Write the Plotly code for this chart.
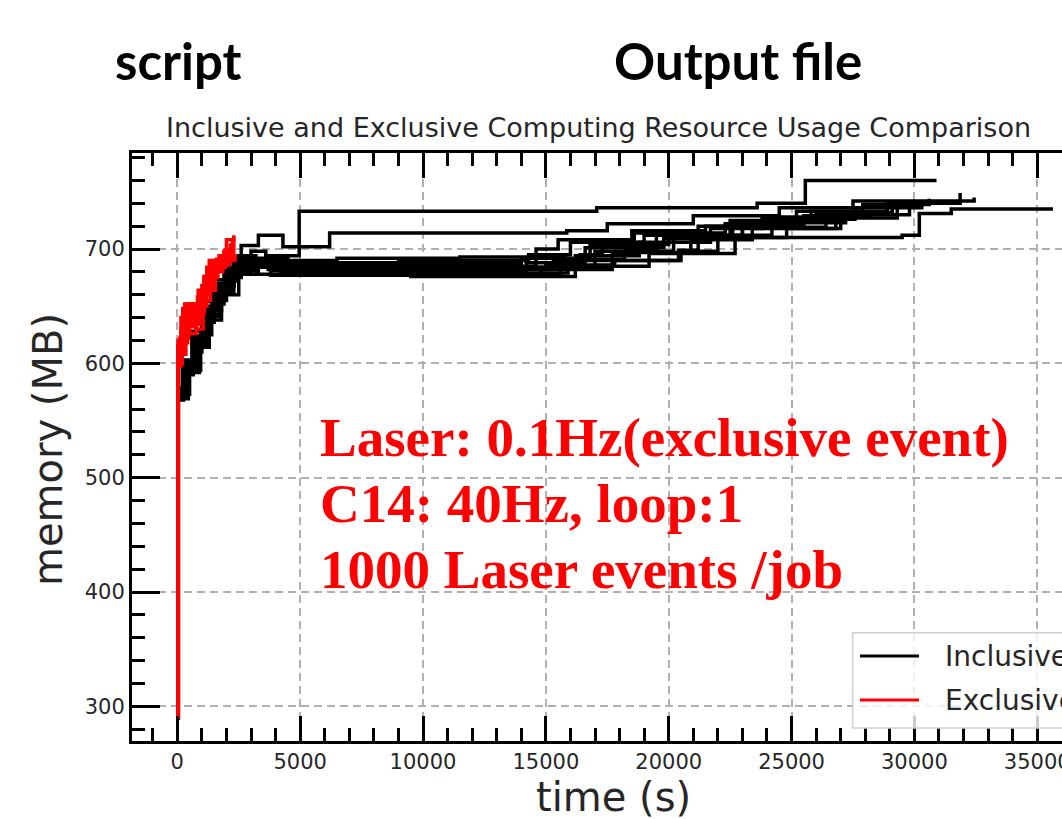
import plotly.graph_objects as go

# ---------------- data ----------------
inclusive_times = [
    [0, 30, 250, 600, 1000, 1400, 1900, 2400, 3000, 3600, 4960, 17070, 23600, 25560, 30900],
    [0, 30, 300, 700, 1100, 1500, 2000, 2600, 3300, 4300, 6200, 15850, 17500, 21000, 24500, 27500, 32430],
    [0, 40, 350, 800, 1200, 1700, 2300, 3000, 4500, 9000, 14300, 16000, 19000, 22500, 25800, 28900, 31860],
    [0, 35, 400, 900, 1300, 1800, 2500, 3200, 6000, 12000, 15000, 17800, 20500, 22000, 29500, 30200, 31500, 35640],
    [0, 30, 300, 700, 1200, 1600, 2100, 2800, 4000, 8000, 14600, 15500, 18500, 21500, 24500, 27650],
    [0, 45, 250, 650, 1000, 1500, 2000, 2600, 3300, 7000, 13500, 16400, 17300, 20000, 23000, 26000, 29100],
    [0, 35, 500, 950, 1400, 1900, 2400, 3200, 5000, 10000, 15300, 18200, 19500, 21200, 24000, 27600, 30300],
    [0, 40, 300, 750, 1250, 1700, 2200, 3000, 3800, 9500, 16200, 18800, 21700, 23800, 26000, 28600],
    [0, 30, 200, 600, 1000, 1450, 1950, 2500, 3200, 6500, 11500, 15800, 20400, 21200, 24800, 27000, 29800],
    [0, 35, 450, 850, 1300, 1800, 2300, 2900, 3700, 8500, 14800, 17700, 20900, 23400, 26800],
    [0, 35, 300, 700, 1100, 1600, 2100, 2700, 3500, 9000, 14200, 16600, 19800, 22600, 25500, 28200],
    [0, 40, 350, 800, 1250, 1750, 2300, 3100, 4200, 10500, 15600, 17000, 20200, 23000, 26400, 29300],
    [0, 30, 250, 650, 1050, 1550, 2050, 2700, 3400, 7500, 14000, 16800, 18600, 22300, 25200, 27900, 30600],
    [0, 35, 400, 850, 1300, 1750, 2250, 2900, 3800, 11000, 15900, 19200, 22700, 24200, 27200],
]
inclusive_mem = [
    [290, 578, 602, 624, 645, 662, 681, 693, 698, 694, 733, 736, 740, 760, 760],
    [290, 572, 596, 618, 640, 660, 684, 703, 712, 702, 714, 716, 722, 729, 736, 742, 745],
    [290, 575, 598, 620, 648, 668, 686, 692, 688, 690, 695, 706, 712, 725, 733, 740, 749],
    [290, 570, 592, 614, 638, 660, 678, 684, 680, 682, 686, 690, 698, 710, 712, 731, 735, 735],
    [290, 576, 600, 622, 650, 670, 688, 690, 686, 685, 700, 708, 716, 720, 726, 726],
    [290, 568, 590, 610, 636, 655, 675, 682, 678, 680, 684, 695, 704, 712, 724, 732, 738],
    [290, 573, 594, 625, 652, 672, 684, 686, 683, 684, 691, 700, 712, 720, 728, 736, 742],
    [290, 571, 597, 616, 643, 664, 680, 688, 677, 676, 694, 706, 718, 727, 731, 734],
    [290, 574, 603, 628, 654, 673, 689, 694, 690, 692, 693, 690, 699, 710, 718, 730, 738],
    [290, 569, 595, 619, 646, 667, 679, 687, 682, 678, 682, 697, 708, 718, 722],
    [290, 577, 600, 623, 649, 669, 684, 689, 684, 681, 688, 701, 709, 721, 729, 733],
    [290, 572, 596, 617, 642, 663, 681, 684, 679, 677, 683, 698, 711, 719, 727, 737],
    [290, 574, 599, 621, 647, 667, 683, 691, 688, 687, 692, 704, 714, 722, 733, 739, 744],
    [290, 570, 593, 615, 641, 661, 679, 685, 681, 679, 685, 696, 712, 723, 728],
]
exclusive_times = [
    [0, 20, 150, 400, 700, 1000, 1300, 1700, 2000, 2300],
    [0, 30, 200, 500, 800, 1100, 1400, 1800, 2200],
    [0, 25, 300, 600, 900, 1200, 1500, 1900, 2150],
    [0, 20, 100, 450, 750, 1050, 1350, 1650, 2050, 2250],
    [0, 30, 250, 550, 850, 1150, 1450, 1750, 2100],
    [0, 25, 180, 420, 650, 950, 1250, 1600, 1950, 2200],
    [0, 35, 350, 700, 1000, 1300, 1600, 2000, 2350],
    [0, 20, 220, 520, 820, 1150, 1500, 1850, 2250],
    [0, 30, 150, 480, 780, 1080, 1380, 1720, 2150],
    [0, 25, 260, 580, 900, 1200, 1550, 1900, 2300],
]
exclusive_mem = [
    [291, 612, 640, 652, 648, 668, 690, 694, 708, 710],
    [291, 600, 628, 635, 645, 672, 688, 692, 700],
    [291, 615, 652, 642, 660, 684, 690, 697, 705],
    [291, 605, 622, 638, 630, 655, 675, 686, 694, 702],
    [291, 620, 645, 638, 664, 667, 682, 686, 692],
    [291, 598, 618, 646, 640, 660, 680, 684, 699, 704],
    [291, 608, 632, 650, 662, 678, 691, 690, 696],
    [291, 616, 648, 652, 658, 670, 680, 693, 709],
    [291, 602, 630, 626, 644, 676, 684, 688, 690],
    [291, 610, 642, 634, 650, 664, 687, 698, 712],
]
x_tick_vals = [0, 5000, 10000, 15000, 20000, 25000, 30000, 35000]
y_tick_vals = [300, 400, 500, 600, 700]
legend_labels = ["Inclusive", "Exclusive"]
title_text = "Inclusive and Exclusive Computing Resource Usage Comparison"
note_lines = ["Laser: 0.1Hz(exclusive event)", "C14: 40Hz, loop:1", "1000 Laser events /job"]

# ---------------- layout geometry ----------------
W, H = 1062, 819
L, R, T, B = 132, 0, 153, 78
plotW = W - L - R
plotH = H - T - B


def px(xp):
    return (xp - L) / plotW


def py(yp):
    return (H - B - yp) / plotH


fig = go.Figure()
for t, m in zip(inclusive_times, inclusive_mem):
    fig.add_trace(go.Scatter(x=t, y=m, mode="lines", line=dict(color="black", width=3.5, shape="hv"),
                             showlegend=False, hoverinfo="skip"))
for t, m in zip(exclusive_times, exclusive_mem):
    fig.add_trace(go.Scatter(x=t, y=m, mode="lines", line=dict(color="#ff0000", width=3.5, shape="hv"),
                             showlegend=False, hoverinfo="skip"))

font_main = "DejaVu Sans"
fig.update_layout(
    width=W, height=H,
    margin=dict(l=L, r=R, t=T, b=B, pad=0, autoexpand=False),
    paper_bgcolor="white", plot_bgcolor="white",
    showlegend=False,
    font=dict(family=font_main, color="#262626"),
)
fig.update_xaxes(
    range=[-1844, 36007], tickvals=x_tick_vals, ticktext=[str(v) for v in x_tick_vals],
    ticklabeloverflow="allow", automargin=False,
    showline=True, linecolor="black", linewidth=3, mirror="ticks",
    ticks="inside", ticklen=25, tickwidth=3, tickcolor="black",
    tickfont=dict(family=font_main, size=21, color="#262626"),
    showgrid=True, gridcolor="#b0b0b0", gridwidth=1.5, griddash="8px,5px",
    minor=dict(dtick=1000, tick0=0, ticks="inside", ticklen=13, tickwidth=2.5, tickcolor="black", showgrid=False),
    zeroline=False,
)
fig.update_yaxes(
    range=[269.74, 783.95], tickvals=y_tick_vals, ticktext=[str(v) for v in y_tick_vals],
    automargin=False,
    showline=True, linecolor="black", linewidth=3, mirror=False,
    ticks="inside", ticklen=28, tickwidth=3, tickcolor="black",
    tickfont=dict(family=font_main, size=21, color="#262626"),
    showgrid=True, gridcolor="#b0b0b0", gridwidth=1.5, griddash="8px,5px",
    minor=dict(dtick=20, tick0=0, ticks="inside", ticklen=13, tickwidth=2.5, tickcolor="black", showgrid=False),
    zeroline=False,
)

ann = []
ann.append(dict(text="<b>script</b>", x=px(113), y=py(60), xanchor="left", yanchor="middle",
                font=dict(family="Lato", size=51, color="black")))
ann.append(dict(text="<b>Output file</b>", x=px(612), y=py(60), xanchor="left", yanchor="middle",
                font=dict(family="Lato", size=51, color="black")))
ann.append(dict(text=title_text, x=px(598.5), y=py(128), xanchor="center", yanchor="middle",
                font=dict(family=font_main, size=27, color="#262626")))
ann.append(dict(text="memory (MB)", x=px(48), y=py(450), xanchor="center", yanchor="middle", textangle=-90,
                font=dict(family=font_main, size=40, color="#262626")))
ann.append(dict(text="time (s)", x=px(613), y=py(797), xanchor="center", yanchor="middle",
                font=dict(family=font_main, size=40, color="#262626")))
for i, line in enumerate(note_lines):
    ann.append(dict(text="<b>" + line + "</b>", x=px(318), y=py(437 + 66 * i), xanchor="left", yanchor="middle",
                    font=dict(family="Liberation Serif", size=55, color="#ff0000")))
# legend (manual)
leg_y = [656, 700]
leg_col = ["black", "#ff0000"]
shapes = [dict(type="rect", xref="paper", yref="paper", x0=px(852.7), x1=px(1080), y0=py(728), y1=py(632.7),
               line=dict(color="#d0d0d0", width=1.5), fillcolor="rgba(255,255,255,0.8)", layer="above")]
for lab, yy, col in zip(legend_labels, leg_y, leg_col):
    shapes.append(dict(type="line", xref="paper", yref="paper", x0=px(860), x1=px(919), y0=py(yy), y1=py(yy),
                       line=dict(color=col, width=3), layer="above"))
    ann.append(dict(text=lab, x=px(943), y=py(yy), xanchor="left", yanchor="middle",
                    font=dict(family=font_main, size=28, color="#262626")))
for a in ann:
    a.update(xref="paper", yref="paper", showarrow=False)
fig.update_layout(annotations=ann, shapes=shapes)

fig.write_html("out.html")
